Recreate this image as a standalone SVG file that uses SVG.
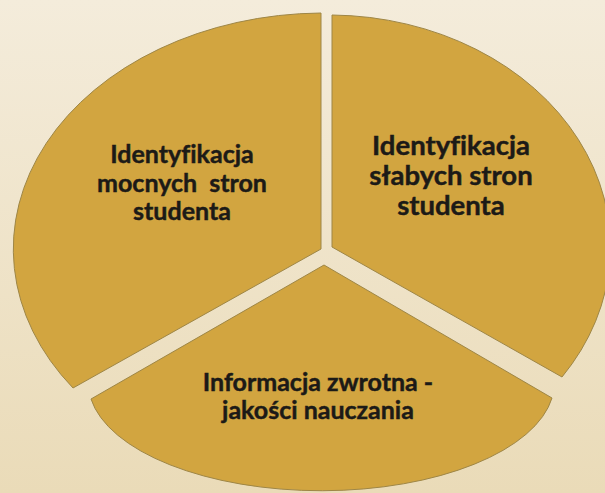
<svg xmlns="http://www.w3.org/2000/svg" width="605" height="493" viewBox="0 0 605 493">
  <defs>
    <linearGradient id="bg" x1="0" y1="0" x2="0" y2="1">
      <stop offset="0" stop-color="#F4ECDB"/>
      <stop offset="1" stop-color="#EADBB8"/>
    </linearGradient>
  </defs>
  <style>
    .wedge { fill: #D2A540; stroke: #9E8646; stroke-width: 1; }
    .lbl { font-family: Lato, "Open Sans", "Liberation Sans", sans-serif; font-weight: bold; fill: #1C1A17; stroke: #1C1A17; stroke-width: 0.45; text-anchor: middle; font-variant-ligatures: none; font-feature-settings: "liga" 0; }
    .s1 { font-size: 25px; }
    .s2 { font-size: 27.5px; }
  </style>
  <rect x="0" y="0" width="605" height="493" fill="url(#bg)"/>
  <g id="connectors"/>
  <g id="wedge-mocne">
    <path class="wedge" d="M321,249 L321,13 A311,236 0 0,0 73,388 Z"/>
    <text class="lbl s1" x="182" y="163">Identyfikacja</text>
    <text class="lbl s1" x="182" y="192" xml:space="preserve">mocnych  stron</text>
    <text class="lbl s1" x="182" y="220">studenta</text>
  </g>
  <g id="wedge-slabe">
    <path class="wedge" d="M332,247 L332,15 A282,232 0 0,1 562,377 Z"/>
    <text class="lbl s2" x="451" y="155">Identyfikacja</text>
    <text class="lbl s2" x="451" y="185">słabych stron</text>
    <text class="lbl s2" x="451" y="215">studenta</text>
  </g>
  <g id="wedge-informacja">
    <path class="wedge" d="M324,265 L91,399 A233,108 0 0,0 552,398 Z"/>
    <text class="lbl s1" x="318" y="391">Informacja zwrotna -</text>
    <text class="lbl s1" x="318" y="419">jakości nauczania</text>
  </g>
</svg>
